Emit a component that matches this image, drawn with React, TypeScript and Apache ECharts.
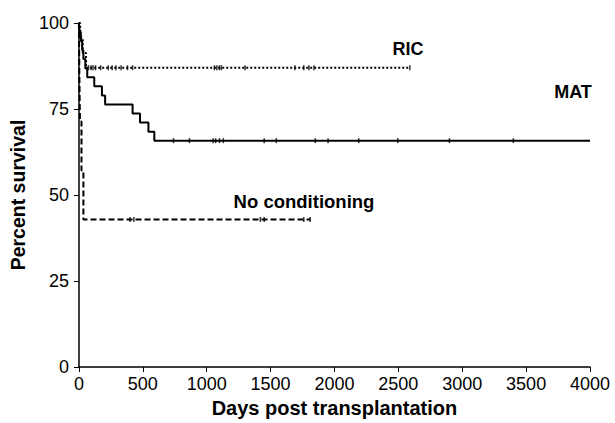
import React, { useEffect, useRef } from "react";
import * as echarts from "echarts";

const xTicks = [0, 500, 1000, 1500, 2000, 2500, 3000, 3500, 4000];
const yTicks = [0, 25, 50, 75, 100];

// Kaplan-Meier step points: [days, survival after event]
const matDays = [0, 5, 15, 25, 35, 50, 65, 120, 180, 205, 420, 478, 544, 590, 4000];
const matSurv = [100, 97.4, 94.7, 92.1, 89.5, 86.8, 84.2, 81.6, 78.9, 76.3, 73.7, 71.1, 68.4, 65.8, 65.8];
const matCensor = [740, 865, 1050, 1070, 1100, 1130, 1450, 1545, 1850, 1950, 2190, 2495, 2900, 3400];

const ricDays = [0, 10, 30, 55, 2590];
const ricSurv = [100, 95.7, 91.3, 87.0, 87.0];
const ricCensor = [75, 95, 110, 130, 170, 230, 260, 290, 330, 380, 420, 1060, 1080, 1100, 1115, 1300, 1690, 1760, 1800, 1840, 2590];

const noDays = [0, 3, 8, 20, 35, 1810];
const noSurv = [100, 85.7, 71.4, 57.1, 42.9, 42.9];
const noCensor = [400, 430, 1420, 1450, 1760, 1810];

function survAt(days: number[], surv: number[], t: number) {
  let s = surv[0];
  for (let i = 0; i < days.length; i++) {
    if (days[i] <= t) s = surv[i];
  }
  return s;
}

const FONT = "'Liberation Sans', Arial, sans-serif";

export default function App() {
  const ref = useRef<HTMLDivElement>(null);
  useEffect(() => {
    if (!ref.current) return;
    const chart = echarts.init(ref.current, null, { renderer: "svg" });
    const line = (days: number[], surv: number[], type: any) => ({
      type: "line",
      step: "end",
      data: days.map((d, i) => [d, surv[i]]),
      showSymbol: false,
      lineStyle: { color: "#000", width: 2, type },
      silent: true,
    });
    const censor = (times: number[], days: number[], surv: number[]) => ({
      type: "scatter",
      symbol: "rect",
      symbolSize: [1.5, 5],
      itemStyle: { color: "#000" },
      data: times.map((t) => [t, survAt(days, surv, t)]),
      silent: true,
    });
    chart.setOption({
      animation: false,
      grid: { left: 77, right: 25, top: 23, bottom: 55, containLabel: false },
      xAxis: {
        type: "value",
        min: 0,
        max: 4000,
        interval: 500,
        name: "Days post transplantation",
        nameLocation: "middle",
        nameGap: 31,
        nameTextStyle: { fontFamily: FONT, fontWeight: "bold", fontSize: 20, color: "#000" },
        axisLine: { lineStyle: { color: "#000", width: 1.5 } },
        axisTick: { show: true, length: 5, lineStyle: { color: "#000" } },
        axisLabel: {
          fontFamily: FONT,
          fontSize: 18,
          color: "#000",
          margin: 8,
          formatter: (v: number) => (xTicks.includes(v) ? String(v) : ""),
        },
        splitLine: { show: false },
      },
      yAxis: {
        type: "value",
        min: 0,
        max: 100,
        interval: 25,
        name: "Percent survival",
        nameLocation: "middle",
        nameGap: 46,
        nameTextStyle: { fontFamily: FONT, fontWeight: "bold", fontSize: 19.5, color: "#000" },
        axisLine: { show: true, lineStyle: { color: "#000", width: 1.5 } },
        axisTick: { show: true, length: 5, lineStyle: { color: "#000" } },
        axisLabel: {
          fontFamily: FONT,
          fontSize: 18,
          color: "#000",
          margin: 10,
          formatter: (v: number) => (yTicks.includes(v) ? String(v) : ""),
        },
        splitLine: { show: false },
      },
      series: [
        line(matDays, matSurv, "solid"),
        line(ricDays, ricSurv, [2, 2]),
        line(noDays, noSurv, [6, 3]),
        censor(matCensor, matDays, matSurv),
        censor(ricCensor, ricDays, ricSurv),
        censor(noCensor, noDays, noSurv),
      ],
      graphic: [
        { type: "text", x: 408, y: 49, style: { text: "RIC", font: `bold 18px ${FONT}`, fill: "#000", textAlign: "center", textVerticalAlign: "middle" } },
        { type: "text", x: 573, y: 92, style: { text: "MAT", font: `bold 18px ${FONT}`, fill: "#000", textAlign: "center", textVerticalAlign: "middle" } },
        { type: "text", x: 304, y: 201, style: { text: "No conditioning", font: `bold 18.5px ${FONT}`, fill: "#000", textAlign: "center", textVerticalAlign: "middle" } },
      ],
    });
    return () => chart.dispose();
  }, []);
  return (
    <div
      ref={ref}
      style={{ position: "fixed", left: 0, top: 0, width: 615, height: 423, background: "#fff" }}
    />
  );
}
